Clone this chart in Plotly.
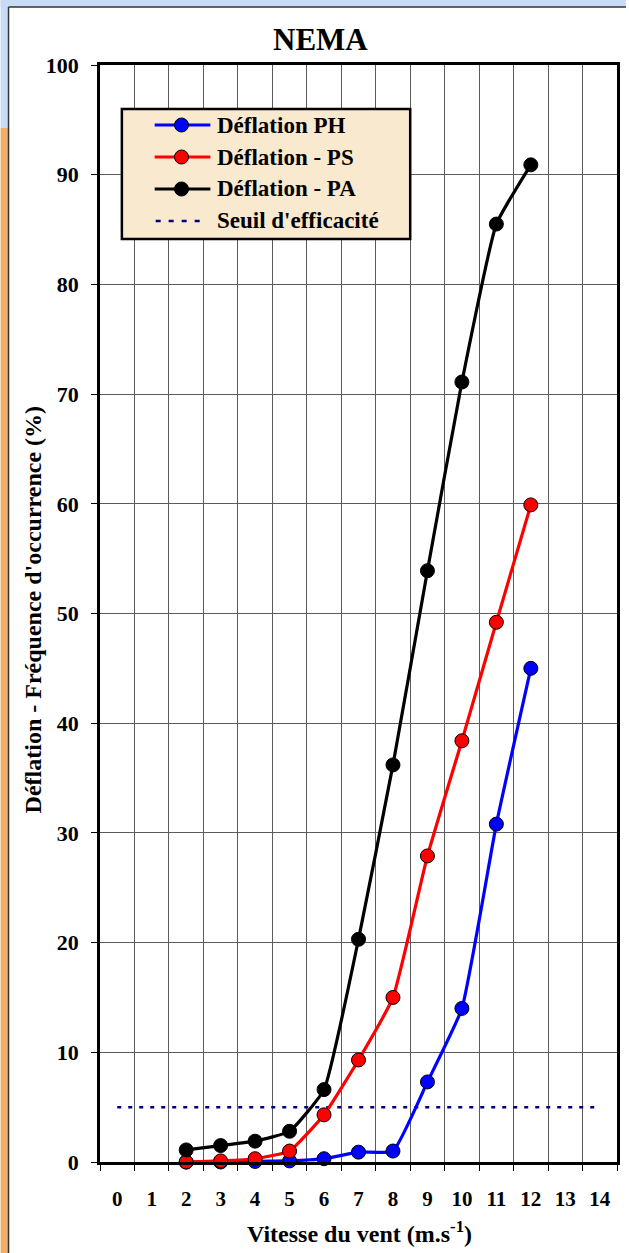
import plotly.graph_objects as go

# Wind speed classes (m/s) and deflation occurrence frequencies (%)
vitesse = [2, 3, 4, 5, 6, 7, 8, 9, 10, 11, 12]
deflation_ph = [0.0, 0.0, 0.05, 0.1, 0.3, 0.9, 1.0, 7.3, 14.0, 30.8, 45.0]
deflation_ps = [0.0, 0.1, 0.3, 1.0, 4.3, 9.3, 15.0, 27.9, 38.4, 49.2, 59.9]
deflation_pa = [1.1, 1.5, 1.9, 2.8, 6.6, 20.3, 36.2, 53.9, 71.1, 85.5, 90.9]
seuil = 5
seuil_x = [0, 14]
x_ticks = list(range(15))

W, H = 629, 1253
L, R, T, B = 100, 620, 65, 1162  # plot area in pixels

FONT = "Liberation Serif, Times New Roman, DejaVu Serif, serif"


def px(x):
    return (x - L) / (R - L)


def py(y):
    return (B - y) / (B - T)


fig = go.Figure()

series = [
    ("Déflation PH", deflation_ph, "#0000ff"),
    ("Déflation - PS", deflation_ps, "#ff0000"),
    ("Déflation - PA", deflation_pa, "#000000"),
]

fig.add_trace(go.Scatter(
    x=seuil_x, y=[seuil, seuil], mode="lines", name="Seuil d'efficacité",
    line=dict(color="#000080", width=2.5, dash="4px,7px"),
    showlegend=False, hoverinfo="skip",
))

for name, vals, col in series:
    fig.add_trace(go.Scatter(
        x=vitesse, y=vals, mode="lines+markers", name=name,
        line=dict(color=col, width=3.2, shape="spline", smoothing=0.4),
        marker=dict(size=14, color=col, line=dict(color="#000000", width=1)),
        showlegend=False, cliponaxis=False,
    ))

shapes = []
# page background: sky band on top, sand strip on the left, frame
shapes.append(dict(type="rect", xref="paper", yref="paper", x0=px(0), x1=px(W),
                   y0=py(0), y1=py(7), fillcolor="#c8dbf6", line_width=0, layer="below"))
shapes.append(dict(type="rect", xref="paper", yref="paper", x0=px(0), x1=px(8),
                   y0=py(0), y1=py(128), fillcolor="#c8dbf6", line_width=0, layer="below"))
shapes.append(dict(type="rect", xref="paper", yref="paper", x0=px(0), x1=px(8),
                   y0=py(128), y1=py(H), fillcolor="#f2ad6c", line_width=0, layer="below"))
shapes.append(dict(type="line", xref="paper", yref="paper", x0=px(8), x1=px(8),
                   y0=py(7), y1=py(H), line=dict(color="#333333", width=1.5)))
shapes.append(dict(type="line", xref="paper", yref="paper", x0=px(8), x1=px(W),
                   y0=py(7), y1=py(7), line=dict(color="#333333", width=1.5)))

# legend box
lx0, lx1, ly0, ly1 = 122, 412, 109, 239
shapes.append(dict(type="rect", xref="paper", yref="paper", x0=px(lx0), x1=px(lx1),
                   y0=py(ly0), y1=py(ly1), fillcolor="#f9e9cf",
                   line=dict(color="#000000", width=2.5)))

annotations = []
rows_y = [125, 157, 189, 221]
for (name, vals, col), ry in zip(series, rows_y):
    shapes.append(dict(type="line", xref="paper", yref="paper", x0=px(155), x1=px(211),
                       y0=py(ry), y1=py(ry), line=dict(color=col, width=3.2)))
    shapes.append(dict(type="circle", xref="paper", yref="paper",
                       xsizemode="pixel", ysizemode="pixel",
                       xanchor=px(182), yanchor=py(ry),
                       x0=-7, x1=7, y0=-7, y1=7, fillcolor=col,
                       line=dict(color="#000000", width=1)))
    annotations.append(dict(xref="paper", yref="paper", x=px(216), y=py(ry),
                            xanchor="left", yanchor="middle", showarrow=False,
                            text="<b>%s</b>" % name,
                            font=dict(family=FONT, size=23, color="#000000")))
ry = rows_y[3]
shapes.append(dict(type="line", xref="paper", yref="paper", x0=px(156), x1=px(205),
                   y0=py(ry), y1=py(ry), line=dict(color="#000080", width=2.5, dash="5px,8px")))
annotations.append(dict(xref="paper", yref="paper", x=px(216), y=py(ry),
                        xanchor="left", yanchor="middle", showarrow=False,
                        text="<b>Seuil d'efficacité</b>",
                        font=dict(family=FONT, size=23, color="#000000")))

# title
annotations.append(dict(xref="paper", yref="paper", x=px(322), y=py(40),
                        xanchor="center", yanchor="middle", showarrow=False,
                        text="<b>NEMA</b>",
                        font=dict(family=FONT, size=31, color="#000000")))
# axis titles
annotations.append(dict(xref="paper", yref="paper", x=px(33), y=py(610),
                        xanchor="center", yanchor="middle", showarrow=False, textangle=-90,
                        text="<b>Déflation - Fréquence d'occurrence (%)</b>",
                        font=dict(family=FONT, size=24, color="#000000")))
annotations.append(dict(xref="paper", yref="paper", x=px(361), y=py(1232),
                        xanchor="center", yanchor="middle", showarrow=False,
                        text="<b>Vitesse du vent (m.s<sup>-1</sup>)</b>",
                        font=dict(family=FONT, size=24, color="#000000")))

fig.update_layout(
    width=W, height=H,
    margin=dict(l=L, r=W - R, t=T, b=H - B, pad=0),
    paper_bgcolor="#ffffff", plot_bgcolor="#ffffff",
    showlegend=False,
    shapes=shapes, annotations=annotations,
    xaxis=dict(
        range=[-0.5, 14.5], tickvals=x_ticks, ticktext=["<b>%d</b>" % v for v in x_ticks],
        showgrid=False, ticks="", zeroline=False,
        showline=True, linecolor="#000000", linewidth=2.5, mirror=True,
        tickfont=dict(family=FONT, size=21, color="#000000"),
        ticklabelstandoff=16,
        minor=dict(tick0=-0.5, dtick=1, showgrid=True, gridcolor="#5a5a5a", gridwidth=1.3,
                   ticks="outside", ticklen=6, tickcolor="#000000", tickwidth=1),
    ),
    yaxis=dict(
        range=[0, 100], dtick=10, tickvals=list(range(0, 101, 10)),
        ticktext=["<b>%d</b>" % v for v in range(0, 101, 10)],
        showgrid=True, gridcolor="#5a5a5a", gridwidth=1.3, zeroline=False,
        ticks="outside", ticklen=6, tickcolor="#000000", tickwidth=1,
        showline=True, linecolor="#000000", linewidth=2.5, mirror=True,
        tickfont=dict(family=FONT, size=22, color="#000000"),
        ticklabelstandoff=8,
    ),
)

fig.write_html("out.html")
